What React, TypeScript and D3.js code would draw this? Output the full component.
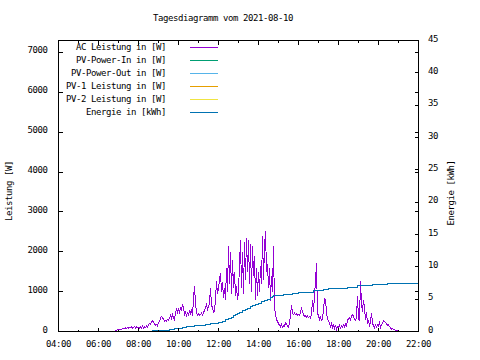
import React from "react";
import * as d3 from "d3";

const chartTitle = "Tagesdiagramm vom 2021-08-10";
const xTickHours = [4, 6, 8, 10, 12, 14, 16, 18, 20, 22];
const xMinorHours = [5, 7, 9, 11, 13, 15, 17, 19, 21];
const powerTicks = [0, 1000, 2000, 3000, 4000, 5000, 6000, 7000];
const energyTicks = [0, 5, 10, 15, 20, 25, 30, 35, 40, 45];
const powerLabel = "Leistung [W]";
const energyLabel = "Energie [kWh]";

const legendLabels = [
  "AC Leistung in [W]",
  "PV-Power-In in [W]",
  "PV-Power-Out in [W]",
  "PV-1 Leistung in [W]",
  "PV-2 Leistung in [W]",
  "Energie in [kWh]",
];
const legendColors = ["#9400d3", "#009e73", "#56b4e9", "#e69f00", "#f0e442", "#0072b2"];

// AC power, one reading every 3 minutes starting 06:45
const powerStart = "06:45";
const powerStepMinutes = 3;
const acPower = [
  // 06:45
  0, 10, 25, 30, 40,
  // 07:00
  45, 50, 60, 55, 70, 65, 80, 90, 70, 100, 85, 110, 95, 120, 80, 105, 125, 90, 115, 100,
  // 08:00
  110, 75, 120, 90, 130, 85, 115, 100, 140, 110, 160, 200, 180, 240, 275, 230, 200, 150, 180, 140,
  // 09:00
  220, 260, 330, 380, 350, 300, 260, 280, 250, 310, 290, 340, 400, 330, 420, 350, 300, 450, 560, 480,
  // 10:00
  590, 450, 620, 550, 690, 600, 420, 480, 400, 460, 420, 500, 450, 550, 380, 830, 1130, 700, 480, 420,
  // 11:00
  450, 400, 430, 460, 410, 480, 520, 620, 675, 560, 640, 700, 1100, 650, 600, 480, 520, 820, 1260, 950,
  // 12:00
  1070, 1300, 1475, 1000, 1250, 850, 1100, 800, 1600, 1000, 2150, 1200, 2000, 950, 1800, 1100, 1500, 900, 1150, 800,
  // 13:00
  1000, 1700, 2300, 1100, 2000, 950, 2250, 1300, 2350, 1500, 2300, 1200, 2200, 1000, 2150, 1400, 1900, 800, 1600, 900,
  // 14:00
  1500, 1000, 1650, 1200, 2400, 1300, 2100, 2525, 1500, 1700, 1100, 1600, 770, 1400, 1000, 2150, 600, 420, 300, 250,
  // 15:00
  200, 150, 120, 175, 100, 140, 120, 225, 180, 140, 100, 200, 400, 675, 450, 430, 460, 420, 440, 410,
  // 16:00
  430, 400, 480, 575, 520, 420, 380, 400, 360, 390, 350, 380, 340, 420, 800, 500, 900, 1250, 1725, 450,
  // 17:00
  400, 300, 350, 280, 320, 550, 825, 800, 500, 300, 280, 200, 120, 200, 100, 150, 80, 170, 60, 130,
  // 18:00
  100, 150, 90, 140, 110, 170, 120, 180, 130, 280, 320, 350, 300, 380, 420, 400, 300, 280, 350, 900,
  // 19:00
  300, 280, 1275, 700, 500, 800, 600, 300, 480, 200, 260, 150, 220, 475, 200, 150, 100, 170, 120, 160,
  // 20:00
  130, 250, 100, 160, 220, 270, 250, 230, 200, 150, 170, 120, 90, 60, 80, 40, 50, 20, 30, 10,
  // 21:00
  20, 0, 0,
];

const energyTimes = [
  "07:51", "08:42", "09:15", "09:33", "09:48", "10:00", "10:12", "10:24", "10:36", "10:48",
  "11:03", "11:21", "11:36", "11:51", "12:01", "12:12", "12:21", "12:30", "12:38", "12:45",
  "12:51", "12:57", "13:03", "13:12", "13:20", "13:27", "13:35", "13:43", "13:51", "14:00",
  "14:09", "14:18", "14:27", "14:35", "14:42", "14:46", "15:16", "15:41", "16:01", "16:21",
  "16:46", "17:16", "17:31", "18:26", "18:56", "19:41", "20:26", "22:00",
];
const energyKWh = [
  0, 0.1, 0.2, 0.3, 0.4, 0.5, 0.6, 0.7, 0.8, 0.9,
  1.0, 1.1, 1.2, 1.3, 1.4, 1.6, 1.8, 2.0, 2.2, 2.4,
  2.6, 2.8, 3.0, 3.2, 3.4, 3.6, 3.8, 4.0, 4.2, 4.4,
  4.6, 4.8, 5.0, 5.2, 5.4, 5.5, 5.65, 5.8, 5.96, 6.1,
  6.3, 6.47, 6.68, 6.88, 7.09, 7.29, 7.5, 7.5,
];

const W = 480;
const H = 360;
const L = 58.5, R = 418.5, T = 40.5, B = 331.5;
const FONT = "'DejaVu Sans Mono', 'Liberation Mono', monospace";
const FS = 9;
const LS = -0.42;

const toHours = (s: string) => {
  const [h, m] = s.split(":").map(Number);
  return h + m / 60;
};
const fmtHour = (h: number) => `${String(h).padStart(2, "0")}:00`;

export default function App() {
  const x = d3.scaleLinear().domain([4, 22]).range([L, R]);
  const yP = d3.scaleLinear().domain([0, 7300]).range([B, T]);
  const yE = d3.scaleLinear().domain([0, 45]).range([B, T]);

  const start = toHours(powerStart);
  const acPts: [number, number][] = acPower.map((v, i) => [start + (i * powerStepMinutes) / 60, v]);
  const enPts: [number, number][] = energyTimes.map((t, i) => [toHours(t), energyKWh[i]]);

  const acPath = d3
    .line<[number, number]>()
    .x((d) => x(d[0]))
    .y((d) => yP(d[1]))(acPts) as string;
  const enPath = d3
    .line<[number, number]>()
    .curve(d3.curveStepAfter)
    .x((d) => x(d[0]))
    .y((d) => yE(d[1]))(enPts) as string;

  const majLen = 4;
  const minLen = 2;

  return (
    <svg
      width={W}
      height={H}
      style={{ position: "absolute", left: 0, top: 0, background: "#fff" }}
      fontFamily={FONT}
      fontSize={FS}
      letterSpacing={LS}
    >
      <rect x={0} y={0} width={W} height={H} fill="#fff" />
      <text x={223} y={21} textAnchor="middle" fill="#000">
        {chartTitle}
      </text>

      {/* data */}
      <path d={acPath} fill="none" stroke="#9400d3" strokeWidth={1} shapeRendering="crispEdges" />
      <path d={enPath} fill="none" stroke="#0072b2" strokeWidth={1} shapeRendering="crispEdges" />

      {/* ticks */}
      <g stroke="#000" strokeWidth={1} shapeRendering="crispEdges">
        {xTickHours.map((h) => (
          <g key={"xt" + h}>
            <line x1={x(h)} x2={x(h)} y1={B} y2={B - majLen} />
            <line x1={x(h)} x2={x(h)} y1={T} y2={T + majLen} />
          </g>
        ))}
        {xMinorHours.map((h) => (
          <g key={"xm" + h}>
            <line x1={x(h)} x2={x(h)} y1={B} y2={B - minLen} />
            <line x1={x(h)} x2={x(h)} y1={T} y2={T + minLen} />
          </g>
        ))}
        {powerTicks.map((v) => (
          <g key={"yt" + v}>
            <line x1={L} x2={L + majLen} y1={yP(v)} y2={yP(v)} />
            <line x1={R} x2={R - majLen} y1={yP(v)} y2={yP(v)} />
          </g>
        ))}
        {energyTicks.map((v) => (
          <line key={"et" + v} x1={R} x2={R - majLen} y1={yE(v)} y2={yE(v)} />
        ))}
        <rect x={L} y={T} width={R - L} height={B - T} fill="none" />
      </g>

      {/* tick labels */}
      <g fill="#000">
        {xTickHours.map((h) => (
          <text key={"xl" + h} x={x(h)} y={347} textAnchor="middle">
            {fmtHour(h)}
          </text>
        ))}
        {powerTicks.map((v) => (
          <text key={"yl" + v} x={47.5} y={yP(v) + 1} textAnchor="end">
            {v}
          </text>
        ))}
        {energyTicks.map((v) => (
          <text key={"el" + v} x={428} y={yE(v) + 1} textAnchor="start">
            {v}
          </text>
        ))}
        <text transform="translate(11.5,191) rotate(-90)" textAnchor="middle">
          {powerLabel}
        </text>
        <text transform="translate(454,193) rotate(-90)" textAnchor="middle">
          {energyLabel}
        </text>
      </g>

      {/* legend */}
      <g>
        {legendLabels.map((lab, i) => {
          const cy = 47 + i * 13;
          return (
            <g key={lab}>
              <text x={166} y={cy + 3} textAnchor="end" fill="#000">
                {lab}
              </text>
              <rect x={190} y={cy} width={28} height={1} fill={legendColors[i]} />
            </g>
          );
        })}
      </g>
    </svg>
  );
}
